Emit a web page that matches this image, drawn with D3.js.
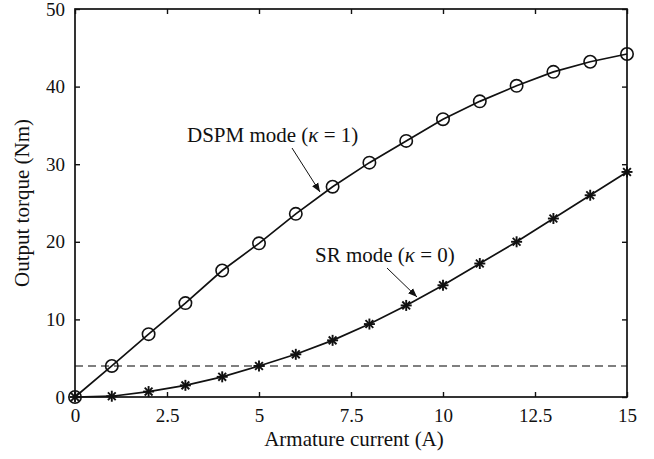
<!DOCTYPE html>
<meta charset="utf-8">
<style>
    body { margin: 0; background: #fff; }
    text { font-family: "Liberation Serif", "Times New Roman", serif; fill: #111; }
</style>
<body>
<svg width="654" height="459"></svg>
<script src="https://d3js.org/d3.v7.min.js"></script>
<script>
    // values
    var current = [0, 1, 2, 3, 4, 5, 6, 7, 8, 9, 10, 11, 12, 13, 14, 15];
    var dspmTorque = [0, 4.0, 8.1, 12.1, 16.3, 19.8, 23.6, 27.1, 30.2, 33.0, 35.8, 38.1, 40.1, 41.9, 43.2, 44.2];
    var srTorque = [0, 0.1, 0.7, 1.5, 2.6, 4.0, 5.5, 7.3, 9.4, 11.8, 14.4, 17.2, 20.0, 23.0, 26.0, 29.0];
    var ratedTorque = 4;
    var xTicks = [0, 2.5, 5, 7.5, 10, 12.5, 15];
    var yTicks = [0, 10, 20, 30, 40, 50];

    var svg = d3.select("svg");
    var plotLeft = 75, plotRight = 627, plotTop = 9, plotBottom = 397;

    var x = d3.scaleLinear().domain([0, 15]).range([plotLeft, plotRight]);
    var y = d3.scaleLinear().domain([0, 50]).range([plotBottom, plotTop]);

    // dashed reference line
    svg.append("line")
        .attr("x1", x(0)).attr("x2", x(15))
        .attr("y1", y(ratedTorque)).attr("y2", y(ratedTorque))
        .attr("stroke", "#555").attr("stroke-width", 1.4)
        .attr("stroke-dasharray", "8,5");

    // axes with inward ticks
    var xAxis = svg.append("g").attr("transform", "translate(0," + plotBottom + ")")
        .call(d3.axisBottom(x).tickValues(xTicks).tickSize(-5).tickPadding(12)
            .tickFormat(function(d) { return d; }));
    var xAxisTop = svg.append("g").attr("transform", "translate(0," + plotTop + ")")
        .call(d3.axisTop(x).tickValues(xTicks).tickSize(-5).tickFormat(""));
    var yAxis = svg.append("g").attr("transform", "translate(" + plotLeft + ",0)")
        .call(d3.axisLeft(y).tickValues(yTicks).tickSize(-5).tickPadding(10));
    var yAxisRight = svg.append("g").attr("transform", "translate(" + plotRight + ",0)")
        .call(d3.axisRight(y).tickValues(yTicks).tickSize(-5).tickFormat(""));

    [xAxis, xAxisTop, yAxis, yAxisRight].forEach(function(g) {
        g.select(".domain").remove();
        g.selectAll("line").attr("stroke", "#111").attr("stroke-width", 1.4);
        g.selectAll("text").attr("font-size", 19).style("font-family", "Liberation Serif, serif").attr("fill", "#111");
    });

    svg.append("rect")
        .attr("x", plotLeft).attr("y", plotTop)
        .attr("width", plotRight - plotLeft).attr("height", plotBottom - plotTop)
        .attr("fill", "none").attr("stroke", "#111").attr("stroke-width", 1.7);

    var line = d3.line()
        .x(function(d) { return x(d[0]); })
        .y(function(d) { return y(d[1]); });

    var dspm = d3.zip(current, dspmTorque);
    var sr = d3.zip(current, srTorque);

    svg.append("path").datum(dspm).attr("d", line)
        .attr("fill", "none").attr("stroke", "#111").attr("stroke-width", 1.7);
    svg.append("path").datum(sr).attr("d", line)
        .attr("fill", "none").attr("stroke", "#111").attr("stroke-width", 1.7);

    svg.selectAll("circle.dspm").data(dspm).enter().append("circle")
        .attr("class", "dspm")
        .attr("cx", function(d) { return x(d[0]); })
        .attr("cy", function(d) { return y(d[1]); })
        .attr("r", 6.2)
        .attr("fill", "none").attr("stroke", "#111").attr("stroke-width", 1.6);

    // asterisk markers
    var star = svg.selectAll("g.sr").data(sr).enter().append("g")
        .attr("class", "sr")
        .attr("transform", function(d) { return "translate(" + x(d[0]) + "," + y(d[1]) + ")"; });
    [0, 45, 90, 135].forEach(function(a) {
        star.append("line")
            .attr("x1", -5.5).attr("x2", 5.5).attr("y1", 0).attr("y2", 0)
            .attr("transform", "rotate(" + a + ")")
            .attr("stroke", "#111").attr("stroke-width", 1.9);
    });

    // axis titles
    svg.append("text")
        .attr("x", (plotLeft + plotRight) / 2 + 3).attr("y", 446)
        .attr("text-anchor", "middle").attr("font-size", 21)
        .text("Armature current (A)");
    svg.append("text")
        .attr("transform", "translate(29," + ((plotTop + plotBottom) / 2) + ") rotate(-90)")
        .attr("text-anchor", "middle").attr("font-size", 21)
        .text("Output torque (Nm)");

    // annotations
    svg.append("defs").append("marker")
        .attr("id", "arrow").attr("viewBox", "0 0 10 10")
        .attr("refX", 10).attr("refY", 5)
        .attr("markerWidth", 9).attr("markerHeight", 9)
        .attr("markerUnits", "userSpaceOnUse")
        .attr("orient", "auto")
        .append("path").attr("d", "M0,1 L10,5 L0,9 Z").attr("fill", "#111");

    function note(tx, ty, label, kappa, ax1, ay1, ax2, ay2) {
        var t = svg.append("text").attr("x", tx).attr("y", ty).attr("font-size", 21);
        t.append("tspan").text(label + " (");
        t.append("tspan").attr("font-style", "italic").text("κ");
        t.append("tspan").text(" = " + kappa + ")");
        svg.append("line")
            .attr("x1", ax1).attr("y1", ay1).attr("x2", ax2).attr("y2", ay2)
            .attr("stroke", "#111").attr("stroke-width", 1)
            .attr("marker-end", "url(#arrow)");
    }
    note(187, 142, "DSPM mode", 1, 292, 148, 320, 192);
    note(315, 262, "SR mode", 0, 387, 268, 417, 297);
</script>
</body>
